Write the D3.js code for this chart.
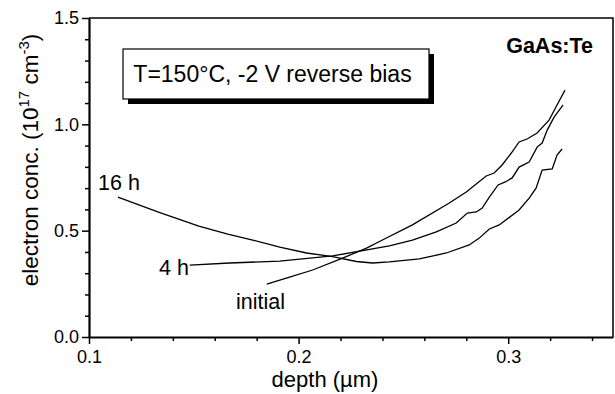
<!DOCTYPE html>
<html><head><meta charset="utf-8">
<script src="https://cdn.jsdelivr.net/npm/d3@7"></script>
<style>body{margin:0;background:#fff}svg{display:block}text{font-family:"Liberation Sans",Arial,sans-serif;fill:#000}</style>
</head><body><svg id="c" width="615" height="394"></svg>
<script>
const depthInitial = [0.1848,0.1957,0.2067,0.2210,0.2324,0.2400,0.2543,0.2719,0.2800,0.2895,0.2933,0.2971,0.3019,0.3052,0.3090,0.3138,0.3195,0.3233,0.3271];
const concInitial  = [0.249,0.282,0.315,0.371,0.418,0.456,0.527,0.630,0.682,0.757,0.771,0.809,0.870,0.917,0.931,0.959,1.020,1.091,1.161];
const depth4h = [0.1481,0.1671,0.1910,0.2162,0.2433,0.2543,0.2657,0.2752,0.2805,0.2848,0.2876,0.2910,0.2952,0.2986,0.3019,0.3052,0.3100,0.3138,0.3162,0.3186,0.3219,0.3262];
const conc4h  = [0.338,0.348,0.357,0.381,0.428,0.456,0.494,0.536,0.583,0.588,0.606,0.658,0.715,0.729,0.748,0.799,0.823,0.893,0.912,0.973,1.034,1.091];
const depth16h = [0.1138,0.1338,0.1524,0.1662,0.1781,0.1910,0.2038,0.2162,0.2276,0.2352,0.2433,0.2576,0.2705,0.2814,0.2862,0.2910,0.2957,0.3052,0.3100,0.3133,0.3162,0.3210,0.3233,0.3257];
const conc16h  = [0.658,0.585,0.521,0.484,0.456,0.423,0.395,0.378,0.355,0.348,0.353,0.367,0.395,0.433,0.465,0.508,0.527,0.597,0.653,0.700,0.785,0.790,0.856,0.884];
const seriesNames = ["initial","4 h","16 h"];
const xMajorTicks = [0.1,0.2,0.3];
const yMajorTicks = [0.0,0.5,1.0,1.5];
const xDomain = [0.1,0.35];
const yDomain = [0,1.5];

const svg = d3.select("#c");
const L=89,R=613,T=18,B=337;
const x = d3.scaleLinear().domain(xDomain).range([L,R]);
const y = d3.scaleLinear().domain(yDomain).range([B,T]);

svg.append("path").attr("d",`M${L},${T}H${R}V${B}`).attr("fill","none").attr("stroke","#000").attr("stroke-width",1.5);

const xMinor = d3.range(0.12,0.35,0.02).filter(v=>!xMajorTicks.some(m=>Math.abs(m-v)<1e-6));
const yMinor = d3.range(0.1,1.5,0.1).filter(v=>!yMajorTicks.some(m=>Math.abs(m-v)<1e-6));
svg.append("g").attr("transform",`translate(0,${B})`)
  .call(d3.axisBottom(x).tickValues(xMinor).tickSize(4).tickFormat(""))
  .call(g=>g.select(".domain").remove()).selectAll("line").attr("stroke-width",1.5);
svg.append("g").attr("transform",`translate(${L},0)`)
  .call(d3.axisLeft(y).tickValues(yMinor).tickSize(4).tickFormat(""))
  .call(g=>g.select(".domain").remove()).selectAll("line").attr("stroke-width",1.5);

const xa = svg.append("g").attr("transform",`translate(0,${B})`)
  .call(d3.axisBottom(x).tickValues(xMajorTicks).tickSize(7).tickSizeOuter(0).tickPadding(6).tickFormat(d3.format(".1f")));
const ya = svg.append("g").attr("transform",`translate(${L},0)`)
  .call(d3.axisLeft(y).tickValues(yMajorTicks).tickSize(7).tickSizeOuter(0).tickPadding(3).tickFormat(d3.format(".1f")));
[xa,ya].forEach(a=>{
  a.select(".domain").attr("stroke-width",2.2);
  a.selectAll("line").attr("stroke-width",1.5);
  a.selectAll("text").style("font-size","18px").style("font-family","'Liberation Sans',Arial,sans-serif");
});

const line = d3.line().x(d=>x(d[0])).y(d=>y(d[1]));
const series = [
  d3.zip(depthInitial,concInitial),
  d3.zip(depth4h,conc4h),
  d3.zip(depth16h,conc16h)
];
svg.append("g").selectAll("path").data(series).join("path")
  .attr("d",line).attr("fill","none").attr("stroke","#000").attr("stroke-width",1.3);

const labelPos = [[236,309],[159,275],[98,190]];
svg.append("g").selectAll("text").data(seriesNames).join("text")
  .attr("x",(d,i)=>labelPos[i][0]).attr("y",(d,i)=>labelPos[i][1])
  .style("font-size","21.5px").text(d=>d);

svg.append("rect").attr("x",128).attr("y",54).attr("width",306).attr("height",50).attr("fill","#000");
svg.append("rect").attr("x",123).attr("y",49).attr("width",306).attr("height",50).attr("fill","#fff").attr("stroke","#000").attr("stroke-width",1.2);
svg.append("text").attr("x",272.5).attr("y",82).attr("text-anchor","middle").style("font-size","23px").text("T=150°C, -2 V reverse bias");

svg.append("text").attr("x",593).attr("y",53).attr("text-anchor","end").style("font-size","21.5px").style("font-weight","bold").text("GaAs:Te");

svg.append("text").attr("x",325).attr("y",387).attr("text-anchor","middle").style("font-size","22px").text("depth (µm)");
const yt = svg.append("text").attr("transform","translate(38,160) rotate(-90)").attr("text-anchor","middle").style("font-size","22.5px");
yt.append("tspan").text("electron conc. (10");
yt.append("tspan").attr("dy",-9).style("font-size","15px").text("17");
yt.append("tspan").attr("dy",9).text(" cm");
yt.append("tspan").attr("dy",-9).style("font-size","15px").text("-3");
yt.append("tspan").attr("dy",9).text(")");
</script></body></html>
